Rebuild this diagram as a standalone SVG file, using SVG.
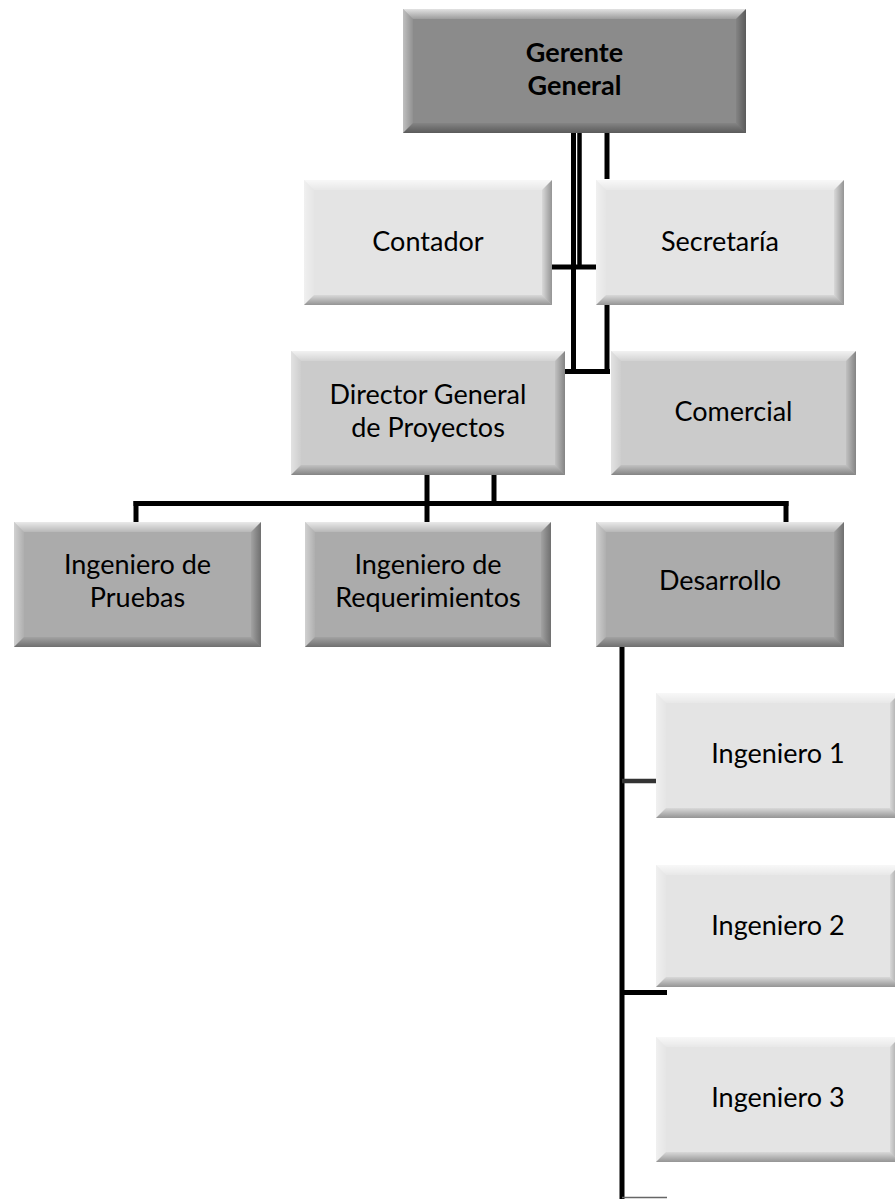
<svg xmlns="http://www.w3.org/2000/svg" width="895" height="1199" viewBox="0 0 895 1199">
<defs>
<linearGradient id="gTop" x1="0" y1="0" x2="0" y2="1"><stop offset="0" stop-color="#fff" stop-opacity="0.75"/><stop offset="1" stop-color="#fff" stop-opacity="0.15"/></linearGradient>
<linearGradient id="gLeft" x1="0" y1="0" x2="1" y2="0"><stop offset="0" stop-color="#fff" stop-opacity="0.45"/><stop offset="1" stop-color="#fff" stop-opacity="0.05"/></linearGradient>
<linearGradient id="gRight" x1="0" y1="0" x2="1" y2="0"><stop offset="0" stop-color="#000" stop-opacity="0.05"/><stop offset="1" stop-color="#000" stop-opacity="0.35"/></linearGradient>
<linearGradient id="gBottom" x1="0" y1="0" x2="0" y2="1"><stop offset="0" stop-color="#000" stop-opacity="0.05"/><stop offset="1" stop-color="#000" stop-opacity="0.35"/></linearGradient>
<style>
.l0{fill:#8b8b8b}
.l1{fill:#e4e4e4}
.l2{fill:#cbcbcb}
.l3{fill:#ababab}
.bt{fill:url(#gTop)}
.bl{fill:url(#gLeft)}
.br{fill:url(#gRight)}
.bb{fill:url(#gBottom)}
text{font-family:Lato,"Open Sans",sans-serif;font-size:27px;fill:#000;text-anchor:middle}
.bold{font-weight:bold}
.c{stroke:#000;stroke-width:5;fill:none}
.c2{stroke:#000;stroke-width:4.5;fill:none}
.cg{stroke:#333;stroke-width:4.5;fill:none}
.cthin{stroke:#666;stroke-width:1.5;fill:none}
</style>
</defs>
<rect x="0" y="0" width="895" height="1199" fill="#fff"/>

<g id="connectors">
<line class="c" x1="573.5" y1="133" x2="573.5" y2="374"/>
<line class="c2" x1="579.5" y1="133" x2="579.5" y2="267"/>
<line class="c" x1="607" y1="133" x2="607" y2="179"/>
<line class="c" x1="552" y1="267" x2="596" y2="267"/>
<line class="c" x1="607" y1="305" x2="607" y2="374"/>
<line class="c" x1="565" y1="371.5" x2="610" y2="371.5"/>
<line class="c" x1="427" y1="475" x2="427" y2="522"/>
<line class="c" x1="494" y1="475" x2="494" y2="506"/>
<line class="c" x1="133.5" y1="503.5" x2="788.5" y2="503.5"/>
<line class="c" x1="136" y1="501" x2="136" y2="522"/>
<line class="c" x1="786" y1="501" x2="786" y2="522"/>
<line class="c" x1="622" y1="647" x2="622" y2="1199"/>
<line class="cg" x1="622" y1="781" x2="656" y2="781"/>
<line class="c" x1="622" y1="992.5" x2="667" y2="992.5"/>
<line class="cthin" x1="622" y1="1197.5" x2="667" y2="1197.5"/>
</g>

<g id="gerente-general">
<rect class="l0" x="403" y="9" width="343" height="124"/>
<polygon class="bt" points="403,9 746,9 736,19 413,19"/>
<polygon class="bl" points="403,9 413,19 413,123 403,133"/>
<polygon class="br" points="746,9 746,133 736,123 736,19"/>
<polygon class="bb" points="403,133 746,133 736,123 413,123"/>
<text class="bold" x="574.5" y="62">Gerente</text>
<text class="bold" x="574.5" y="95">General</text>
</g>

<g id="contador">
<rect class="l1" x="304" y="180" width="248" height="125"/>
<polygon class="bt" points="304,180 552,180 542,190 314,190"/>
<polygon class="bl" points="304,180 314,190 314,295 304,305"/>
<polygon class="br" points="552,180 552,305 542,295 542,190"/>
<polygon class="bb" points="304,305 552,305 542,295 314,295"/>
<text x="428" y="251">Contador</text>
</g>

<g id="secretaria">
<rect class="l1" x="596" y="180" width="248" height="125"/>
<polygon class="bt" points="596,180 844,180 834,190 606,190"/>
<polygon class="bl" points="596,180 606,190 606,295 596,305"/>
<polygon class="br" points="844,180 844,305 834,295 834,190"/>
<polygon class="bb" points="596,305 844,305 834,295 606,295"/>
<text x="720" y="251">Secretaría</text>
</g>

<g id="director-general">
<rect class="l2" x="291" y="351" width="274" height="124"/>
<polygon class="bt" points="291,351 565,351 555,361 301,361"/>
<polygon class="bl" points="291,351 301,361 301,465 291,475"/>
<polygon class="br" points="565,351 565,475 555,465 555,361"/>
<polygon class="bb" points="291,475 565,475 555,465 301,465"/>
<text x="428" y="404">Director General</text>
<text x="428" y="437">de Proyectos</text>
</g>

<g id="comercial">
<rect class="l2" x="611" y="351" width="245" height="124"/>
<polygon class="bt" points="611,351 856,351 846,361 621,361"/>
<polygon class="bl" points="611,351 621,361 621,465 611,475"/>
<polygon class="br" points="856,351 856,475 846,465 846,361"/>
<polygon class="bb" points="611,475 856,475 846,465 621,465"/>
<text x="733.5" y="421">Comercial</text>
</g>

<g id="ingeniero-pruebas">
<rect class="l3" x="14" y="522" width="247" height="125"/>
<polygon class="bt" points="14,522 261,522 251,532 24,532"/>
<polygon class="bl" points="14,522 24,532 24,637 14,647"/>
<polygon class="br" points="261,522 261,647 251,637 251,532"/>
<polygon class="bb" points="14,647 261,647 251,637 24,637"/>
<text x="137.5" y="574">Ingeniero de</text>
<text x="137.5" y="607">Pruebas</text>
</g>

<g id="ingeniero-requerimientos">
<rect class="l3" x="305" y="522" width="246" height="125"/>
<polygon class="bt" points="305,522 551,522 541,532 315,532"/>
<polygon class="bl" points="305,522 315,532 315,637 305,647"/>
<polygon class="br" points="551,522 551,647 541,637 541,532"/>
<polygon class="bb" points="305,647 551,647 541,637 315,637"/>
<text x="428" y="574">Ingeniero de</text>
<text x="428" y="607">Requerimientos</text>
</g>

<g id="desarrollo">
<rect class="l3" x="596" y="522" width="248" height="125"/>
<polygon class="bt" points="596,522 844,522 834,532 606,532"/>
<polygon class="bl" points="596,522 606,532 606,637 596,647"/>
<polygon class="br" points="844,522 844,647 834,637 834,532"/>
<polygon class="bb" points="596,647 844,647 834,637 606,637"/>
<text x="720" y="590">Desarrollo</text>
</g>

<g id="ingeniero-1">
<rect class="l1" x="656" y="693" width="244" height="125"/>
<polygon class="bt" points="656,693 900,693 890,703 666,703"/>
<polygon class="bl" points="656,693 666,703 666,808 656,818"/>
<polygon class="br" points="900,693 900,818 890,808 890,703"/>
<polygon class="bb" points="656,818 900,818 890,808 666,808"/>
<text x="778" y="763">Ingeniero 1</text>
</g>

<g id="ingeniero-2">
<rect class="l1" x="656" y="865" width="244" height="122"/>
<polygon class="bt" points="656,865 900,865 890,875 666,875"/>
<polygon class="bl" points="656,865 666,875 666,977 656,987"/>
<polygon class="br" points="900,865 900,987 890,977 890,875"/>
<polygon class="bb" points="656,987 900,987 890,977 666,977"/>
<text x="778" y="935">Ingeniero 2</text>
</g>

<g id="ingeniero-3">
<rect class="l1" x="656" y="1037" width="244" height="125"/>
<polygon class="bt" points="656,1037 900,1037 890,1047 666,1047"/>
<polygon class="bl" points="656,1037 666,1047 666,1152 656,1162"/>
<polygon class="br" points="900,1037 900,1162 890,1152 890,1047"/>
<polygon class="bb" points="656,1162 900,1162 890,1152 666,1152"/>
<text x="778" y="1107">Ingeniero 3</text>
</g>
</svg>
